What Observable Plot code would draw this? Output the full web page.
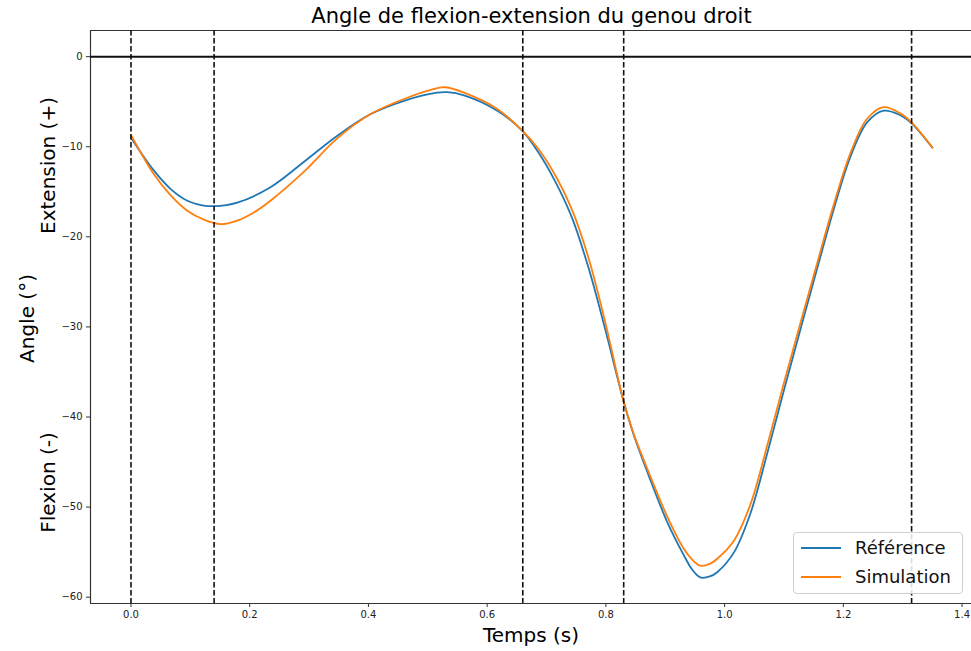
<!DOCTYPE html>
<html>
<head>
<meta charset="utf-8">
<script src="https://cdn.jsdelivr.net/npm/d3@7"></script>
<script src="https://cdn.jsdelivr.net/npm/@observablehq/plot@0.6"></script>
<style>
  body { margin: 0; background: white; font-family: "DejaVu Sans", sans-serif; }
  #wrap { position: relative; width: 971px; height: 651px; background: white; overflow: hidden; }
  #title { position: relative; height: 26px; }
  #title span { position: absolute; left: 90px; width: 883px; top: 6px; text-align: center;
    font: 21px "DejaVu Sans"; line-height: 21px; color: #000; white-space: nowrap; }
  #legend { position: absolute; left: 793px; top: 532px; width: 168px; height: 60px;
    border: 1px solid #d0d0d0; border-radius: 4px; background: rgba(255,255,255,0.85); }
  .item { position: absolute; left: 0; height: 24px; width: 168px; }
  .item .sw { position: absolute; left: 7px; width: 40px; top: 11px; height: 0; border-top: 2px solid; }
  .item .lb { position: absolute; left: 61px; top: 0; font: 18px "DejaVu Sans"; line-height: 24px; color: #111; }
</style>
</head>
<body>
<div id="wrap">
  <div id="title"><span>Angle de flexion-extension du genou droit</span></div>
  <div id="chart"></div>
  <div id="legend"></div>
</div>
<script>
// ---- data ----
const refTime = [0.000,0.038,0.067,0.095,0.120,0.140,0.179,0.235,0.291,0.347,0.403,0.460,0.516,0.533,0.561,0.617,0.659,0.687,0.715,0.743,0.771,0.799,0.830,0.847,0.875,0.903,0.931,0.945,0.959,0.975,0.988,1.016,1.044,1.072,1.100,1.128,1.156,1.184,1.212,1.240,1.268,1.296,1.315,1.350];
const refAngle = [-9.0,-12.6,-14.7,-16.0,-16.5,-16.6,-16.2,-14.5,-11.7,-8.8,-6.4,-4.9,-4.0,-3.95,-4.3,-6.0,-8.2,-10.7,-13.9,-17.9,-23.5,-30.3,-38.3,-42.0,-47.0,-51.6,-55.3,-56.9,-57.8,-57.7,-57.2,-55.0,-50.6,-44.0,-37.0,-30.2,-23.5,-16.9,-11.1,-7.3,-6.0,-6.5,-7.4,-10.1];
const simTime = [0.000,0.038,0.067,0.095,0.123,0.151,0.179,0.207,0.235,0.291,0.347,0.403,0.460,0.516,0.530,0.561,0.617,0.659,0.687,0.715,0.743,0.771,0.799,0.830,0.847,0.875,0.903,0.931,0.945,0.959,0.975,0.988,1.016,1.044,1.072,1.100,1.128,1.156,1.184,1.212,1.240,1.268,1.296,1.315,1.350];
const simAngle = [-8.7,-13.0,-15.4,-17.1,-18.1,-18.6,-18.2,-17.3,-16.0,-12.8,-9.1,-6.4,-4.7,-3.5,-3.4,-4.0,-5.8,-8.2,-10.3,-13.2,-17.0,-22.4,-29.5,-38.3,-41.9,-46.6,-51.0,-54.6,-55.8,-56.5,-56.3,-55.7,-53.7,-49.6,-43.1,-36.2,-29.5,-22.9,-16.4,-10.7,-6.9,-5.6,-6.3,-7.3,-10.1];
const eventTimes = [0.0, 0.14, 0.66, 0.83, 1.315];
const seriesNames = ["Référence", "Simulation"];
const seriesColors = ["#1f77b4", "#ff7f0e"];
const xTicks = [0.0, 0.2, 0.4, 0.6, 0.8, 1.0, 1.2, 1.4];
const yTicks = [0, -10, -20, -30, -40, -50, -60];
const titleText = "Angle de flexion-extension du genou droit";
const xLabel = "Temps (s)";
const yLabel = "Angle (°)";
const yLabelTop = "Extension (+)";
const yLabelBottom = "Flexion (-)";

// ---- build table ----
const rows = [];
refTime.forEach((t, i) => rows.push({t, a: refAngle[i], s: seriesNames[0]}));
simTime.forEach((t, i) => rows.push({t, a: simAngle[i], s: seriesNames[1]}));

const xDomain = [-0.0682, 1.4159];
const yDomain = [-60.7, 2.9];
const frameColor = "#333";

const chart = Plot.plot({
  width: 971,
  height: 621,
  marginLeft: 90,
  marginRight: 0,
  marginTop: 4,
  marginBottom: 44,
  style: { fontFamily: "DejaVu Sans", background: "white", color: "#222", overflow: "visible" },
  x: { domain: xDomain },
  y: { domain: yDomain },
  color: { domain: seriesNames, range: seriesColors },
  marks: [
    Plot.ruleX([xDomain[0]], { stroke: frameColor, strokeWidth: 1.2 }),
    Plot.ruleY([yDomain[0], yDomain[1]], { stroke: frameColor, strokeWidth: 1.2 }),
    Plot.axisX({ ticks: xTicks, tickFormat: d3.format(".1f"), tickSize: 4, tickPadding: 3, fontSize: 10, label: null, stroke: frameColor }),
    Plot.axisY({ ticks: yTicks, tickFormat: d3.format(".0f"), tickSize: 4, tickPadding: 4, fontSize: 10, label: null, stroke: frameColor }),
    Plot.ruleY([0], { stroke: "#111", strokeWidth: 2 }),
    Plot.line(rows, { x: "t", y: "a", z: "s", stroke: "s", strokeWidth: 1.8, curve: "catmull-rom" }),
    Plot.ruleX(eventTimes, { stroke: "#111", strokeWidth: 1.6, strokeDasharray: "5.5,2.5" }),
    Plot.text([xLabel], { frameAnchor: "bottom", textAnchor: "middle", lineAnchor: "middle", dy: 32, fontSize: 20, fill: "#000" }),
    Plot.text([yLabel], { frameAnchor: "left", textAnchor: "middle", lineAnchor: "middle", dx: -63, dy: 1.5, rotate: -90, fontSize: 20, fill: "#000" }),
    Plot.text([yLabelTop], { frameAnchor: "left", textAnchor: "middle", lineAnchor: "middle", dx: -42, dy: -151.5, rotate: -90, fontSize: 20, fill: "#000" }),
    Plot.text([yLabelBottom], { frameAnchor: "left", textAnchor: "middle", lineAnchor: "middle", dx: -42, dy: 165.5, rotate: -90, fontSize: 20, fill: "#000" })
  ]
});
document.getElementById("chart").appendChild(chart);

// ---- legend ----
const legend = document.getElementById("legend");
seriesNames.forEach((name, i) => {
  const item = document.createElement("div");
  item.className = "item";
  item.style.top = (3 + i * 29) + "px";
  const sw = document.createElement("div");
  sw.className = "sw";
  sw.style.borderTopColor = seriesColors[i];
  const lb = document.createElement("div");
  lb.className = "lb";
  lb.textContent = name;
  item.appendChild(sw);
  item.appendChild(lb);
  legend.appendChild(item);
});
document.querySelector("#title span").textContent = titleText;
</script>
</body>
</html>
